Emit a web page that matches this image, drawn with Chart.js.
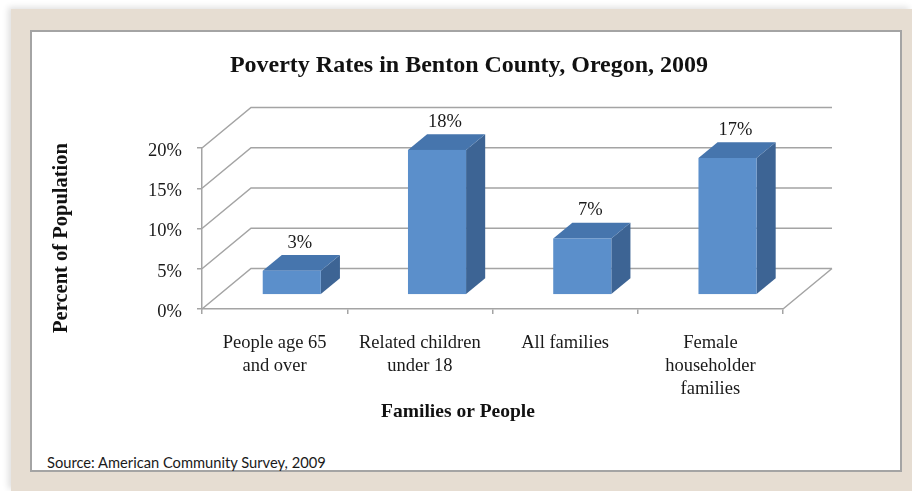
<!DOCTYPE html>
<html>
<head>
<meta charset="utf-8">
<title>Poverty Rates in Benton County, Oregon, 2009</title>
<script src="https://cdn.jsdelivr.net/npm/chart.js@4.4.1/dist/chart.umd.min.js"></script>
<style>
  html, body { margin: 0; padding: 0; background: #fff; }
  body { width: 912px; height: 491px; position: relative; overflow: hidden; }
  #mat { position: absolute; left: 11px; top: 9px; width: 901px; height: 482px; background: #e6ddd2;
         box-shadow: -3px -2px 6px rgba(0, 0, 0, 0.12); }
  #panel { position: absolute; left: 30px; top: 30px; width: 868px; height: 438px; background: #fff;
           border: 2px solid #a4a4a4; }
  #source { position: absolute; left: 47px; top: 453px; line-height: 17px; font: 14.7px Lato, sans-serif; color: #1a1a1a; }
  #chart { position: absolute; left: 0; top: 0; }
</style>
</head>
<body>
<div id="mat"></div>
<div id="panel"></div>
<div id="source">Source: American Community Survey, 2009</div>
<canvas id="chart" width="912" height="491"></canvas>
<script>
const chartTitle = 'Poverty Rates in Benton County, Oregon, 2009';
const xTitle = 'Families or People';
const yTitle = 'Percent of Population';

const categories = [
  ['People age 65', 'and over'],
  ['Related children', 'under 18'],
  'All families',
  ['Female', 'householder', 'families']
];
const povertyRates = [3, 18, 7, 17];
const percentTicks = [0, 5, 10, 15, 20];

// floor depth of the 3-D box, and where the bars sit inside it
const DEPTH = { x: 49, y: -40.5 };
const BAR_FRONT = 0.35;
const BAR_BACK = 0.74;

const GRID = '#a4a4a4';
const SERIF = '"Liberation Serif", "Times New Roman", serif';

function fillPoly(ctx, pts) {
  ctx.beginPath();
  ctx.moveTo(pts[0][0], pts[0][1]);
  for (let i = 1; i < pts.length; i++) ctx.lineTo(pts[i][0], pts[i][1]);
  ctx.closePath();
  ctx.fill();
}

const box3d = {
  id: 'box3d',
  // back wall gridlines, left wall diagonals and floor edge
  beforeDatasetsDraw(chart) {
    const { ctx, chartArea: a, scales: { y } } = chart;
    ctx.save();
    ctx.strokeStyle = GRID;
    ctx.lineWidth = 1.5;
    ctx.beginPath();
    y.ticks.forEach(t => {
      const py = y.getPixelForValue(t.value);
      ctx.moveTo(a.left, py);
      ctx.lineTo(a.left + DEPTH.x, py + DEPTH.y);
      ctx.lineTo(a.right + DEPTH.x, py + DEPTH.y);
    });
    ctx.moveTo(a.right, a.bottom);
    ctx.lineTo(a.right + DEPTH.x, a.bottom + DEPTH.y);
    ctx.stroke();
    ctx.restore();
  },
  // the bars as boxes, plus their value labels
  afterDatasetsDraw(chart) {
    const { ctx } = chart;
    const meta = chart.getDatasetMeta(0);
    const fx = DEPTH.x * BAR_FRONT, fy = DEPTH.y * BAR_FRONT;
    const dx = DEPTH.x * (BAR_BACK - BAR_FRONT), dy = DEPTH.y * (BAR_BACK - BAR_FRONT);
    ctx.save();
    meta.data.forEach((bar, i) => {
      const { x, y, base, width } = bar.getProps(['x', 'y', 'base', 'width'], true);
      const l = x - width / 2 + fx, r = x + width / 2 + fx;
      const t = y + fy, b = base + fy;
      ctx.fillStyle = '#3d6494';
      fillPoly(ctx, [[r, t], [r + dx, t + dy], [r + dx, b + dy], [r, b]]);
      ctx.fillStyle = '#4675ad';
      fillPoly(ctx, [[l, t], [r, t], [r + dx, t + dy], [l + dx, t + dy]]);
      ctx.fillStyle = '#5b8fcb';
      ctx.fillRect(l, t, r - l, b - t);

      ctx.fillStyle = '#1a1a1a';
      ctx.font = '18.5px ' + SERIF;
      ctx.textAlign = 'center';
      ctx.textBaseline = 'middle';
      ctx.fillText(povertyRates[i] + '%', x + fx + 8, t - 28);
    });
    ctx.restore();
  }
};

const captions = {
  id: 'captions',
  afterDraw(chart) {
    const { ctx } = chart;
    ctx.save();
    ctx.fillStyle = '#111';
    ctx.textAlign = 'center';
    ctx.textBaseline = 'middle';
    ctx.font = 'bold 24px ' + SERIF;
    ctx.fillText(chartTitle, 469, 66);
    ctx.font = 'bold 19.5px ' + SERIF;
    ctx.fillText(xTitle, 458, 412);
    ctx.translate(62, 238);
    ctx.rotate(-Math.PI / 2);
    ctx.font = 'bold 20.5px ' + SERIF;
    ctx.fillText(yTitle, 0, 0);
    ctx.restore();
  }
};

new Chart(document.getElementById('chart'), {
  type: 'bar',
  data: {
    labels: categories,
    datasets: [{
      data: povertyRates,
      backgroundColor: 'rgba(0,0,0,0)',
      hoverBackgroundColor: 'rgba(0,0,0,0)',
      borderWidth: 0,
      barPercentage: 0.4,
      categoryPercentage: 1
    }]
  },
  plugins: [box3d, captions],
  options: {
    responsive: false,
    animation: false,
    events: [],
    layout: { padding: { top: 148, right: 129, bottom: 0, left: 0 } },
    plugins: {
      legend: { display: false },
      title: { display: false },
      tooltip: { enabled: false }
    },
    scales: {
      x: {
        afterFit: s => { s.height = 182; },
        border: { display: true, color: GRID, width: 1.5 },
        grid: { offset: true, drawOnChartArea: false, drawTicks: true, tickLength: 5, color: GRID, lineWidth: 1.5 },
        ticks: {
          maxRotation: 0,
          autoSkip: false,
          padding: 18,
          color: '#1a1a1a',
          font: { family: SERIF, size: 18.5, lineHeight: 23 / 18.5 }
        }
      },
      y: {
        min: 0,
        max: 20,
        afterFit: s => { s.width = 202; },
        afterBuildTicks: s => { s.ticks = percentTicks.map(v => ({ value: v })); },
        border: { display: true, color: GRID, width: 1.5 },
        grid: { drawOnChartArea: false, drawTicks: true, tickLength: 5, color: GRID, lineWidth: 1.5 },
        ticks: {
          padding: 15,
          labelOffset: 3,
          color: '#1a1a1a',
          font: { family: SERIF, size: 18.5 },
          callback: v => v + '%'
        }
      }
    }
  }
});
</script>
</body>
</html>
